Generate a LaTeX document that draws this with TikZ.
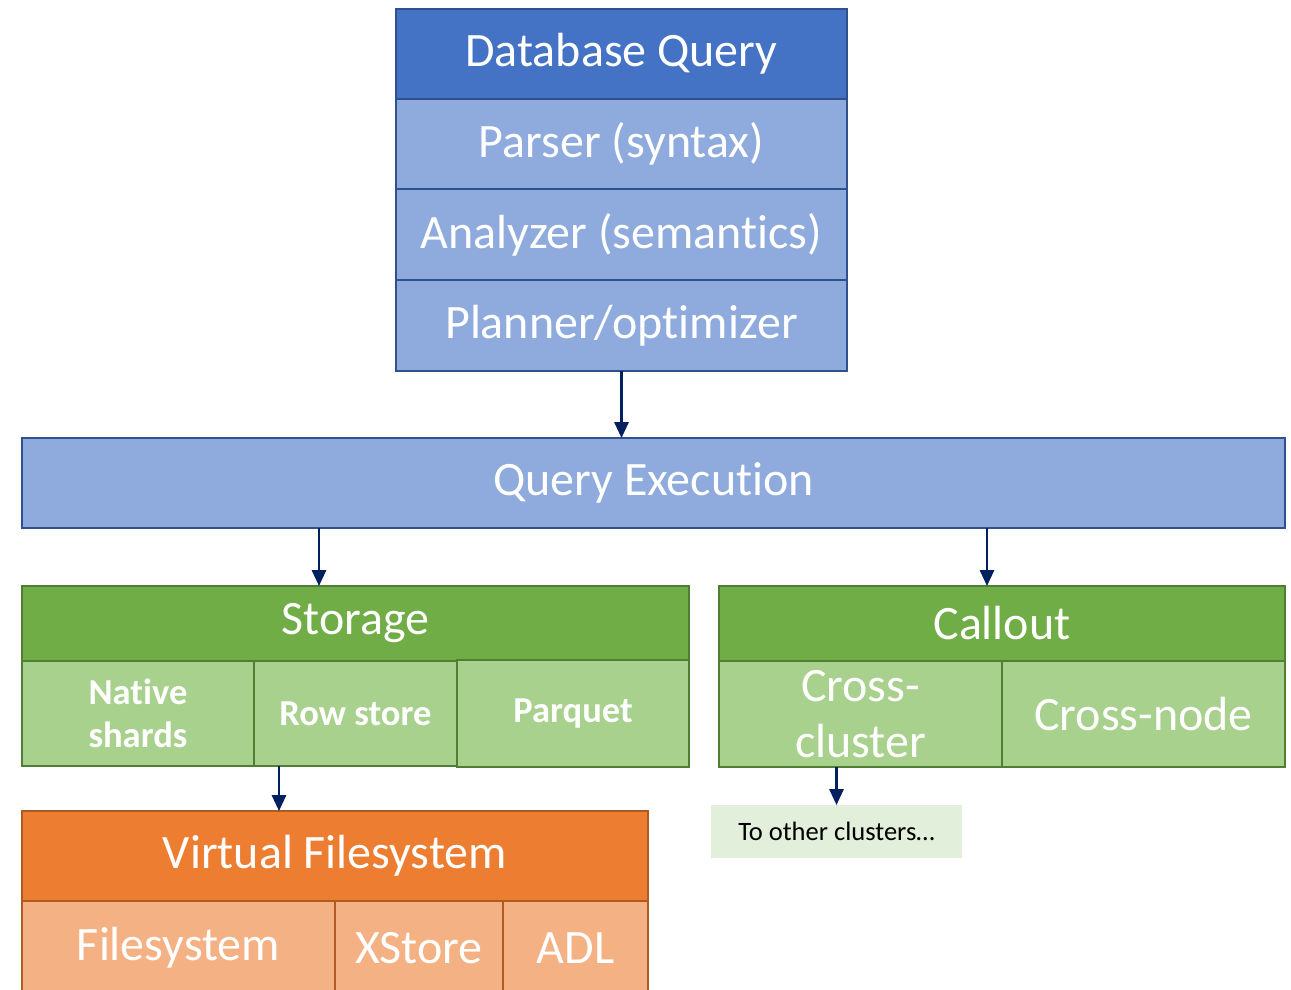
\documentclass[tikz,border=0pt]{standalone}
\usepackage{fontspec}
\setmainfont{Carlito}[Ligatures={NoCommon}]
\usetikzlibrary{arrows.meta}
\definecolor{blueD}{HTML}{4472C4}
\definecolor{blueB}{HTML}{2F528F}
\definecolor{blueL}{HTML}{8FAADC}
\definecolor{greenD}{HTML}{70AD47}
\definecolor{greenB}{HTML}{507E32}
\definecolor{greenL}{HTML}{A9D18E}
\definecolor{orangeD}{HTML}{ED7D31}
\definecolor{orangeB}{HTML}{AE5A21}
\definecolor{orangeL}{HTML}{F4B183}
\definecolor{paleG}{HTML}{E2EFDA}
\definecolor{navy}{HTML}{002060}
% name, style, x1, y1, x2, y2, text  (pixel units, y downward)
\newcommand\pbx[7]{%
  \pgfmathsetmacro\pbxw{(#5-#3)*0.02}%
  \pgfmathsetmacro\pbxh{(#6-#4)*0.02}%
  \node[#2, minimum width=\pbxw cm, minimum height=\pbxh cm] (#1) at ({(#3+#5)/2},{(#4+#6)/2}) {#7};}
\begin{document}
\begin{tikzpicture}[x=0.02cm,y=-0.02cm,
  base/.style={rectangle, inner sep=0pt, outer sep=0pt, line width=1.4pt, text=white, align=center,
    font=\fontsize{27.3}{32}\selectfont},
  dq/.style={base, draw=blueB, fill=blueD},
  lb/.style={base, draw=blueB, fill=blueL},
  gh/.style={base, draw=greenB, fill=greenD},
  gl/.style={base, draw=greenB, fill=greenL},
  gbold/.style={gl, font=\fontsize{20.8}{24.5}\selectfont\bfseries},
  oh/.style={base, draw=orangeB, fill=orangeD},
  ol/.style={base, draw=orangeB, fill=orangeL},
  note/.style={rectangle, inner sep=0pt, outer sep=0pt, fill=paleG, text=black,
    font=\fontsize{15.1}{17}\selectfont},
  arr/.style={draw=navy, line width=1.4pt, -{Triangle[length=9pt,width=8pt]}}
]
\useasboundingbox (0,0) rectangle (1291,990);
\clip (0,0) rectangle (1291,990);
\fill[white] (0,0) rectangle (1291,990);

% top stack
\pbx{dbq}{dq}{396}{9}{847}{99}{Database Query}
\pbx{parser}{lb}{396}{99}{847}{189}{Parser (syntax)}
\pbx{analyzer}{lb}{396}{189}{847}{280}{Analyzer (semantics)}
\pbx{planner}{lb}{396}{280}{847}{371}{Planner/optimizer}

% query execution
\pbx{qe}{lb}{22}{438}{1285}{528}{Query Execution}

% storage
\pbx{storage}{gh}{22}{586}{689}{661}{Storage}
\pbx{native}{gbold}{22}{661}{254}{766}{Native\\shards}
\pbx{rowstore}{gbold}{254}{661}{457}{766}{Row store}
\pbx{parquet}{gbold}{457}{660}{689}{767}{Parquet}

% callout
\pbx{callout}{gh}{719}{586}{1285}{661}{Callout}
\pbx{crosscluster}{gl}{719}{661}{1002}{767}{Cross-\\cluster}
\pbx{crossnode}{gl}{1002}{661}{1285}{767}{Cross-node}

% note
\pbx{other}{note}{711}{805}{962}{858}{To other clusters…}

% virtual filesystem
\pbx{vfs}{oh}{22}{811}{648}{901}{Virtual Filesystem}
\pbx{fs}{ol}{22}{901}{335}{995}{Filesystem}
\pbx{xstore}{ol}{335}{901}{503}{995}{XStore}
\pbx{adl}{ol}{503}{901}{648}{995}{ADL}

% connectors
\draw[arr] (planner.south) -- (qe.north -| planner.south);
\draw[arr] (qe.south -| 319,0) -- (storage.north -| 319,0);
\draw[arr] (qe.south -| 987,0) -- (callout.north -| 987,0);
\draw[arr] (rowstore.south -| 279,0) -- (vfs.north -| 279,0);
\draw[arr] (crosscluster.south -| other.north) -- (other.north);
\end{tikzpicture}
\end{document}
